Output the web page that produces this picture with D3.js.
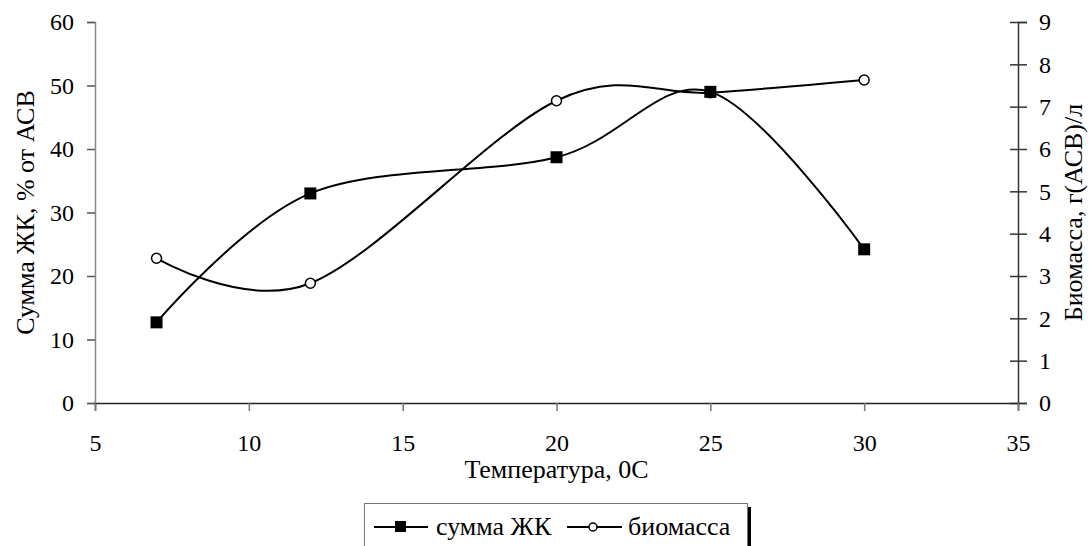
<!DOCTYPE html>
<html>
<head>
<meta charset="utf-8">
<script src="https://cdn.jsdelivr.net/npm/d3@7"></script>
<style>
  body { margin: 0; background: #fff; }
  svg text { font-family: "Liberation Serif", "Times New Roman", Times, serif; fill: #000; }
</style>
</head>
<body>
<div id="chart"></div>
<script>
// data
const temps = [7, 12, 20, 25, 30];
const fattyAcids = [12.7, 33.0, 38.7, 49.0, 24.2];      // left axis, %
const biomass = [3.42, 2.83, 7.14, 7.33, 7.63];          // right axis, g/l
const xTicks = [5, 10, 15, 20, 25, 30, 35];
const yLeftTicks = [0, 10, 20, 30, 40, 50, 60];
const yRightTicks = [0, 1, 2, 3, 4, 5, 6, 7, 8, 9];
const seriesNames = ["сумма ЖК", "биомасса"];

const W = 1090, H = 546;
const margin = {top: 22, right: 72, bottom: 143, left: 95};
const width = W - margin.left - margin.right;
const height = H - margin.top - margin.bottom;
const serif = "'Liberation Serif', 'Times New Roman', Times, serif";

const svg = d3.select("#chart").append("svg")
    .attr("width", W)
    .attr("height", H)
    .attr("font-family", serif);

const g = svg.append("g")
    .attr("transform", "translate(" + margin.left + "," + margin.top + ")");

const x = d3.scaleLinear().domain([5, 35]).range([0, width]);
const yL = d3.scaleLinear().domain([0, 60]).range([height, 0]);
const yR = d3.scaleLinear().domain([0, 9]).range([height, 0]);

// axes
const yAxisL = g.append("g")
    .call(d3.axisLeft(yL).tickValues(yLeftTicks).tickSize(8).tickPadding(13));
const yAxisR = g.append("g")
    .attr("transform", "translate(" + width + ",0)")
    .call(d3.axisRight(yR).tickValues(yRightTicks).tickSize(9).tickPadding(12));
yAxisR.selectAll(".tick line").attr("x1", -8);
const xAxis = g.append("g")
    .attr("transform", "translate(0," + height + ")")
    .call(d3.axisBottom(x).tickValues(xTicks).tickSize(8).tickPadding(23));

[[xAxis, "#222", "#777"], [yAxisL, "#888", "#555"], [yAxisR, "#333", "#333"]].forEach(([a, dc, tc]) => {
    a.attr("font-family", serif).attr("font-size", 24);
    a.select(".domain").attr("stroke", dc).attr("stroke-width", 1.5);
    a.selectAll(".tick line").attr("stroke", tc).attr("stroke-width", 1.5);
    a.selectAll(".tick text")
        .style("font-family", serif)
        .style("font-size", "24px")
        .attr("fill", "#000");
});

// axis titles
const midY = margin.top + height / 2;
svg.append("text")
    .attr("transform", "translate(34," + midY + ") rotate(-90)")
    .attr("text-anchor", "middle")
    .style("font-size", "26px")
    .text("Сумма ЖК, % от АСВ");

svg.append("text")
    .attr("transform", "translate(1082," + midY + ") rotate(-90)")
    .attr("text-anchor", "middle")
    .style("font-size", "26px")
    .text("Биомасса, г(АСВ)/л");

svg.append("text")
    .attr("x", margin.left + width / 2)
    .attr("y", 478)
    .attr("text-anchor", "middle")
    .style("font-size", "26px")
    .text("Температура, 0С");

// lines
const curve = d3.curveCardinal.tension(0);

const lineL = d3.line()
    .x((d, i) => x(temps[i]))
    .y(d => yL(d))
    .curve(curve);
const lineR = d3.line()
    .x((d, i) => x(temps[i]))
    .y(d => yR(d))
    .curve(curve);

g.append("path")
    .attr("d", lineR(biomass))
    .attr("fill", "none")
    .attr("stroke", "#000")
    .attr("stroke-width", 2);

g.append("path")
    .attr("d", lineL(fattyAcids))
    .attr("fill", "none")
    .attr("stroke", "#000")
    .attr("stroke-width", 2);

// markers
g.selectAll(".circ").data(biomass).enter().append("circle")
    .attr("cx", (d, i) => x(temps[i]))
    .attr("cy", d => yR(d))
    .attr("r", 5)
    .attr("fill", "#fff")
    .attr("stroke", "#000")
    .attr("stroke-width", 1.5);

g.selectAll(".sq").data(fattyAcids).enter().append("rect")
    .attr("x", (d, i) => x(temps[i]) - 6)
    .attr("y", d => yL(d) - 6)
    .attr("width", 12)
    .attr("height", 12)
    .attr("fill", "#000");

// legend
const leg = svg.append("g");
leg.append("rect")
    .attr("x", 747).attr("y", 507)
    .attr("width", 4).attr("height", 50)
    .attr("fill", "#000");
leg.append("rect")
    .attr("x", 364.5).attr("y", 503.5)
    .attr("width", 383).attr("height", 60)
    .attr("fill", "#fff")
    .attr("stroke", "#777")
    .attr("stroke-width", 1);

const ly = 527;
leg.append("line").attr("x1", 374).attr("x2", 428).attr("y1", ly).attr("y2", ly)
    .attr("stroke", "#000").attr("stroke-width", 2);
leg.append("rect").attr("x", 395).attr("y", ly - 6).attr("width", 11).attr("height", 11)
    .attr("fill", "#000");
leg.append("text").attr("x", 436).attr("y", ly + 8).style("font-size", "26px").text(seriesNames[0]);

leg.append("line").attr("x1", 567).attr("x2", 622).attr("y1", ly).attr("y2", ly)
    .attr("stroke", "#000").attr("stroke-width", 2);
leg.append("circle").attr("cx", 593).attr("cy", ly).attr("r", 4)
    .attr("fill", "#fff").attr("stroke", "#000").attr("stroke-width", 1.5);
leg.append("text").attr("x", 628).attr("y", ly + 8).style("font-size", "26px").text(seriesNames[1]);
</script>
</body>
</html>
